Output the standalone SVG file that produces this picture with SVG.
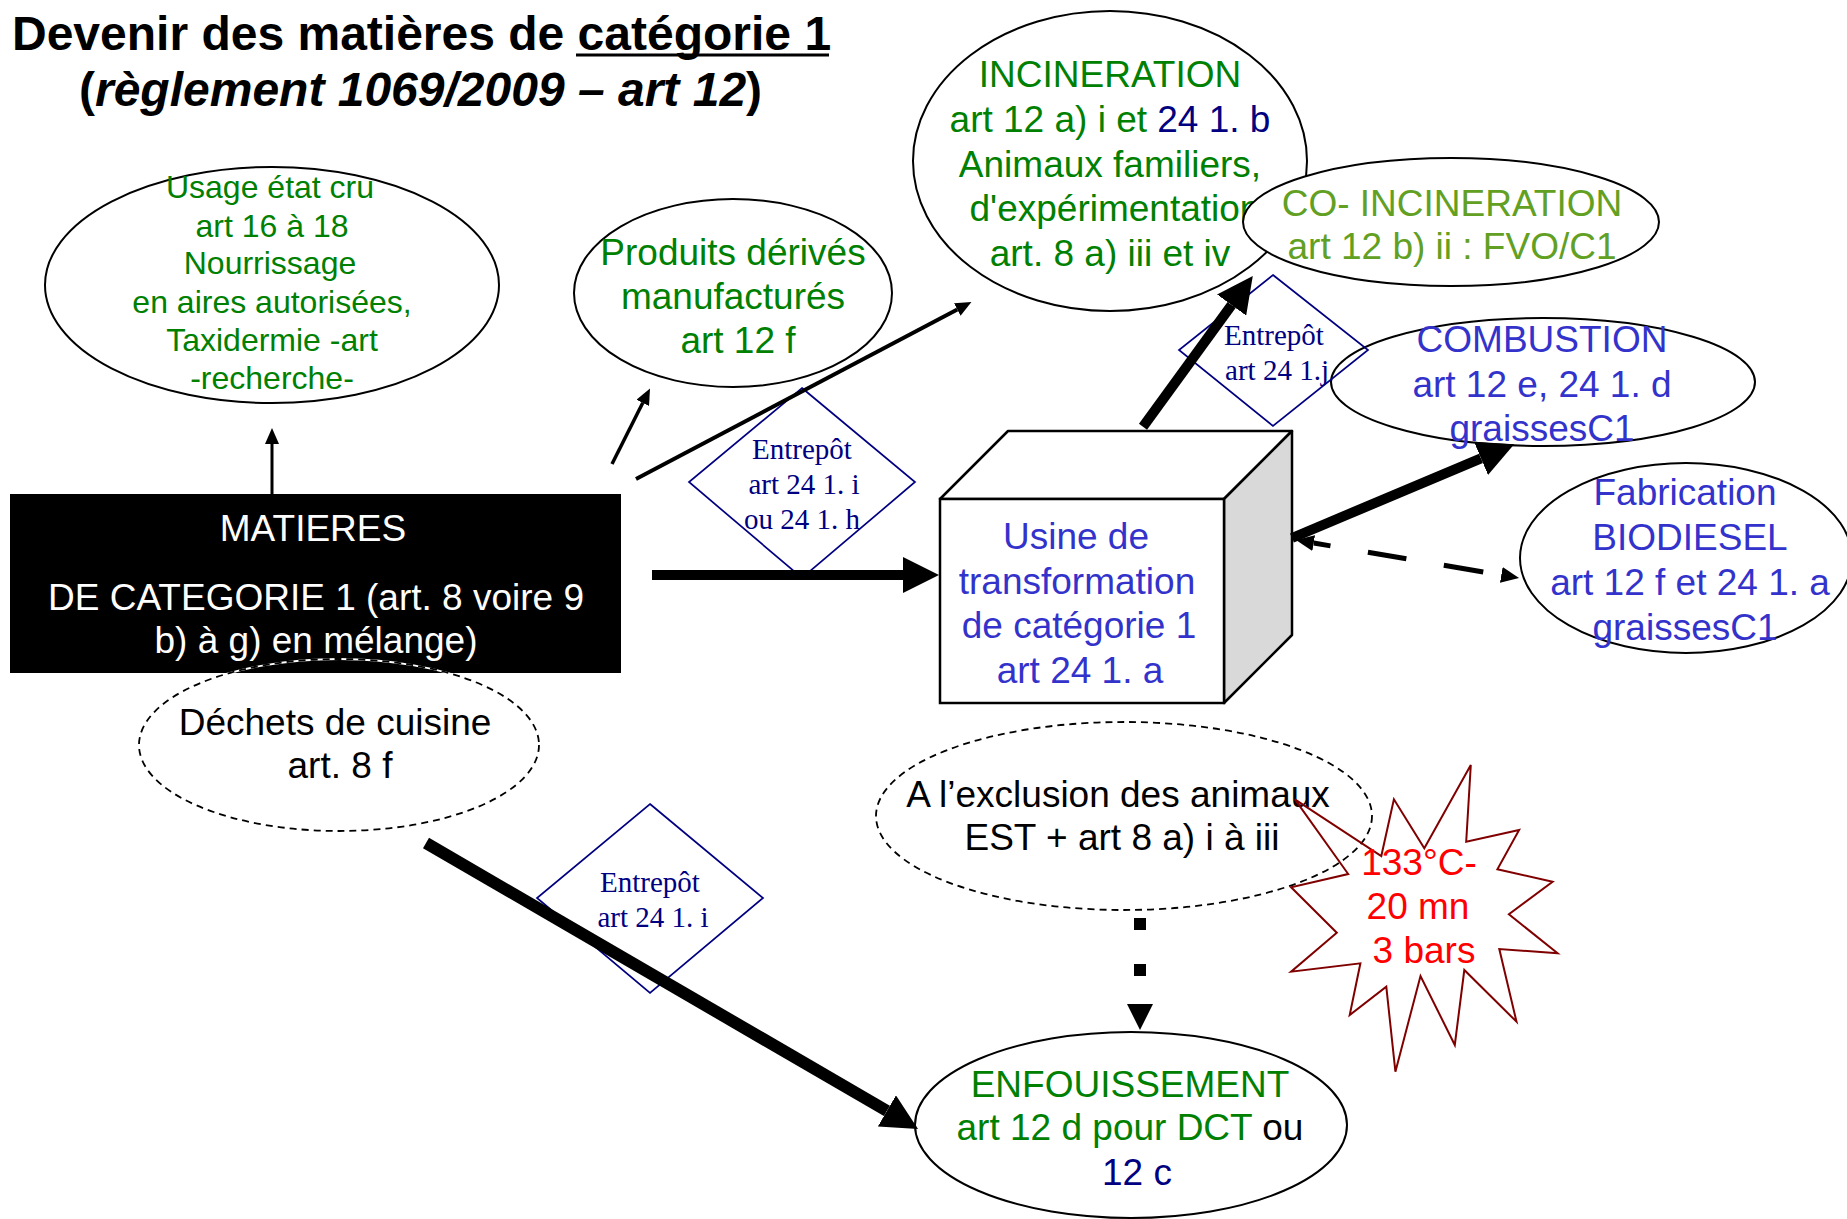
<svg xmlns="http://www.w3.org/2000/svg" width="1847" height="1219" viewBox="0 0 1847 1219">
<style>
text{font-family:"Liberation Sans",Arial,sans-serif;font-size:37px;text-anchor:middle}
.sm{font-size:32px}
.ser{font-family:"Liberation Serif","Times New Roman",serif;font-size:29px;fill:#000080}
.g{fill:#008000}.o{fill:#62a024}.b{fill:#3333cc}.n{fill:#000080}.k{fill:#000}.w{fill:#fff}.r{fill:#ff0000}
.el{fill:#fff;stroke:#000;stroke-width:2}
.eln{fill:none;stroke:#000;stroke-width:2}
.dsh{fill:none;stroke:#000;stroke-width:1.8;stroke-dasharray:7 5}
.dshbg{fill:none;stroke:#fff;stroke-width:1.8}
.dia{fill:none;stroke:#000080;stroke-width:1.7}
.ln{fill:none;stroke:#000}
</style>
<defs>
<marker id="ahs" markerUnits="userSpaceOnUse" markerWidth="16" markerHeight="14" viewBox="0 0 16 14" refX="0" refY="7" orient="auto"><path d="M0,0 L16,7 L0,14 z" fill="#000"/></marker>
<marker id="ahl" markerUnits="userSpaceOnUse" markerWidth="36" markerHeight="36" viewBox="0 0 36 36" refX="0" refY="18" orient="auto"><path d="M0,0 L36,18 L0,36 z" fill="#000"/></marker>
<marker id="ahm" markerUnits="userSpaceOnUse" markerWidth="18" markerHeight="16" viewBox="0 0 18 16" refX="0" refY="8" orient="auto-start-reverse"><path d="M0,0 L18,8 L0,16 z" fill="#000"/></marker>
<marker id="ahd" markerUnits="userSpaceOnUse" markerWidth="26" markerHeight="26" viewBox="0 0 26 26" refX="0" refY="13" orient="auto"><path d="M0,0 L26,13 L0,26 z" fill="#000"/></marker>
</defs>
<rect width="1847" height="1219" fill="#fff"/>

<g id="title">
<text x="12" y="50" style="font-size:48px;font-weight:bold;text-anchor:start">Devenir des matières de catégorie 1</text>
<line x1="576" y1="55" x2="829" y2="55" stroke="#000" stroke-width="3"/>
<text x="79" y="106" style="font-size:48px;font-weight:bold;text-anchor:start">(<tspan font-style="italic">règlement 1069/2009 – art 12</tspan>)</text>
</g>

<g id="usage">
<ellipse class="el" cx="272" cy="285" rx="227" ry="118"/>
<text class="sm g" x="270" y="198">Usage état cru</text>
<text class="sm g" x="272" y="237">art 16 à 18</text>
<text class="sm g" x="270" y="274">Nourrissage</text>
<text class="sm g" x="272" y="313">en aires autorisées,</text>
<text class="sm g" x="272" y="351">Taxidermie -art</text>
<text class="sm g" x="272" y="389">-recherche-</text>
</g>

<g id="produits">
<ellipse class="el" cx="733" cy="293" rx="159" ry="94"/>
<text class="g" x="733" y="265">Produits dérivés</text>
<text class="g" x="733" y="309">manufacturés</text>
<text class="g" x="738" y="353">art 12 f</text>
</g>

<g id="incineration">
<ellipse class="el" cx="1110" cy="161" rx="197" ry="150"/>
<text class="g" x="1110" y="87">INCINERATION</text>
<text class="g" x="1110" y="132">art 12 a) i et <tspan class="n">24 1. b</tspan></text>
<text class="g" x="1110" y="177">Animaux familiers,</text>
<text class="g" x="1115" y="221">d'expérimentation</text>
<text class="g" x="1110" y="266">art. 8 a) iii et iv</text>
</g>

<g id="coincineration">
<ellipse class="el" cx="1451" cy="222" rx="208" ry="64"/>
<text class="o" x="1452" y="216">CO- INCINERATION</text>
<text class="o" x="1452" y="259">art 12 b) ii : FVO/C1</text>
</g>

<g id="combustion">
<ellipse class="eln" cx="1543" cy="382" rx="212" ry="64"/>
<text class="b" x="1542" y="352">COMBUSTION</text>
<text class="b" x="1542" y="397">art 12 e, 24 1. d</text>
<text class="b" x="1542" y="441">graissesC1</text>
</g>

<g id="biodiesel">
<ellipse class="el" cx="1686" cy="558" rx="166" ry="95"/>
<text class="b" x="1685" y="505">Fabrication</text>
<text class="b" x="1690" y="550">BIODIESEL</text>
<text class="b" x="1690" y="595">art 12 f et 24 1. a</text>
<text class="b" x="1685" y="640">graissesC1</text>
</g>

<g id="matieres">
<rect x="10" y="494" width="611" height="179" fill="#000"/>
<text class="w" x="313" y="541">MATIERES</text>
<text class="w" x="316" y="610">DE CATEGORIE 1 (art. 8 voire 9</text>
<text class="w" x="316" y="653">b) à g) en mélange)</text>
</g>

<g id="dechets">
<ellipse class="dshbg" cx="339" cy="745" rx="200" ry="86"/>
<ellipse class="dsh" cx="339" cy="745" rx="200" ry="86"/>
<text class="k" x="335" y="735">Déchets de cuisine</text>
<text class="k" x="340" y="778">art. 8 f</text>
</g>

<g id="usine">
<polygon points="940,499 1008,431 1292,431 1224,499" fill="#fff" stroke="#000" stroke-width="2.5" stroke-linejoin="round"/>
<polygon points="1224,499 1292,431 1292,635 1224,703" fill="#d9d9d9" stroke="#000" stroke-width="2.5" stroke-linejoin="round"/>
<rect x="940" y="499" width="284" height="204" fill="#fff" stroke="#000" stroke-width="2.5"/>
<text class="b" x="1076" y="549">Usine de</text>
<text class="b" x="1077" y="594">transformation</text>
<text class="b" x="1079" y="638">de catégorie 1</text>
<text class="b" x="1080" y="683">art 24 1. a</text>
</g>

<g id="exclusion">
<ellipse class="dsh" cx="1124" cy="816" rx="248" ry="94"/>
<text class="k" x="1118" y="807">A l’exclusion des animaux</text>
<text class="k" x="1122" y="850">EST + art 8 a) i à iii</text>
</g>

<g id="enfouissement">
<ellipse class="el" cx="1131" cy="1125" rx="216" ry="93"/>
<text class="g" x="1130" y="1097">ENFOUISSEMENT</text>
<text class="g" x="1130" y="1140">art 12 d pour DCT<tspan class="k"> ou</tspan></text>
<text class="n" x="1137" y="1185">12 c</text>
</g>

<g id="starburst">
<polygon points="1470.8,765 1466.2,841.7 1519.1,830 1497.4,869.3 1552.6,881.7 1508.9,914.3 1557.6,953.3 1499.3,949 1516.5,1021.7 1464.3,970 1454.8,1045 1420.5,976 1395.4,1071.7 1386.3,986.7 1349.7,1015 1360.4,963.3 1291.1,971.7 1336.8,932.7 1291.1,887.3 1348.2,874 1294.9,799.3 1381.3,856 1393.9,799.3 1424.3,848.3" fill="none" stroke="#800000" stroke-width="2"/>
<text class="r" x="1419" y="875">133°C-</text>
<text class="r" x="1418" y="919">20 mn</text>
<text class="r" x="1424" y="963">3 bars</text>
</g>

<g id="entrepot1">
<polygon class="dia" points="802,388 915,482 802,578 689,482"/>
<text class="ser" x="802" y="459">Entrepôt</text>
<text class="ser" x="804" y="494">art 24 1. i</text>
<text class="ser" x="802" y="529">ou 24 1. h</text>
</g>

<g id="entrepot2">
<polygon class="dia" points="1273,275 1368,350 1273,426 1179,350"/>
<text class="ser" x="1274" y="345">Entrepôt</text>
<text class="ser" x="1277" y="380">art 24 1.j</text>
</g>

<g id="entrepot3">
<polygon class="dia" points="650,804 763,898 650,993 537,898"/>
<text class="ser" x="650" y="892">Entrepôt</text>
<text class="ser" x="653" y="927">art 24 1. i</text>
</g>

<g id="connectors">
<line class="ln" x1="272" y1="494" x2="272" y2="444" stroke-width="3" marker-end="url(#ahs)"/>
<line class="ln" x1="612" y1="464" x2="642.8" y2="402.8" stroke-width="3.5" marker-end="url(#ahs)"/>
<line class="ln" x1="636" y1="479" x2="957.3" y2="309.5" stroke-width="4" marker-end="url(#ahs)"/>
<line class="ln" x1="652" y1="575" x2="903" y2="575" stroke-width="10" marker-end="url(#ahl)"/>
<line class="ln" x1="1143" y1="426.7" x2="1231.6" y2="305" stroke-width="10" marker-end="url(#ahl)"/>
<line class="ln" x1="1292" y1="538" x2="1481" y2="458.3" stroke-width="10" marker-end="url(#ahl)"/>
<line class="ln" x1="1313.7" y1="543" x2="1501.3" y2="575" stroke-width="5" stroke-dasharray="17 38 39 38 40 40" marker-start="url(#ahm)" marker-end="url(#ahm)"/>
<line class="ln" x1="426" y1="843" x2="886.9" y2="1110.9" stroke-width="12" marker-end="url(#ahl)"/>
<line class="ln" x1="1140" y1="918" x2="1140" y2="1004" stroke-width="12" stroke-dasharray="12 34" marker-end="url(#ahd)"/>
</g>
</svg>
